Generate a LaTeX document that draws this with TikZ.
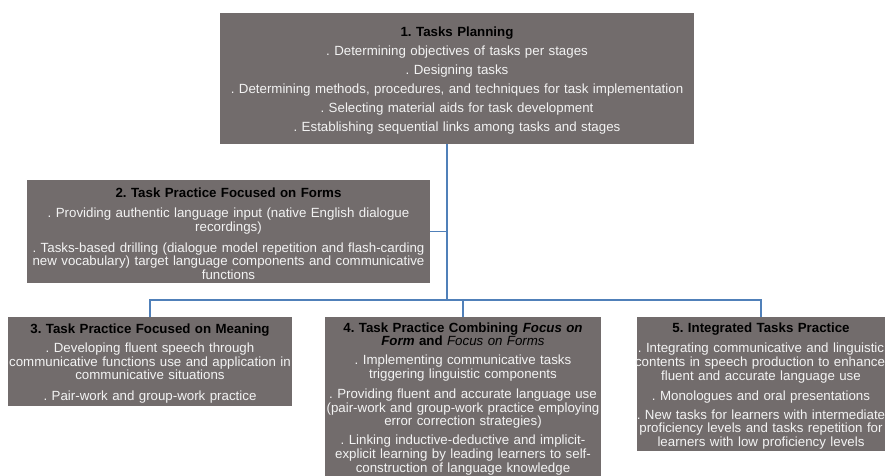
\documentclass[tikz,border=0pt]{standalone}
\usepackage{fontspec}
\setmainfont{Liberation Sans}
\definecolor{boxgray}{RGB}{114,108,108}
\definecolor{linkblue}{RGB}{80,128,185}
\definecolor{bodytext}{RGB}{243,243,243}
\tikzset{
  stagebox/.style={fill=boxgray, draw=none, inner sep=0pt, anchor=north,
    align=center, text=bodytext, font=\fontsize{13.3}{13.7}\selectfont\frenchspacing},
  link/.style={draw=linkblue, line width=1.5pt}
}
\newcommand\boxtitle[1]{{\color{black}\bfseries #1}}
\newcommand\flushline[1]{\makebox[\linewidth][r]{#1}}
\newcommand\midline[1]{\makebox[\linewidth][c]{#1}}
\newcommand\topgap{\rule{0pt}{13.6pt}}
\begin{document}
\begin{tikzpicture}[x=1pt,y=-1pt]
\useasboundingbox (0,0) rectangle (886,475);

\node[stagebox, text width=474pt, minimum height=131pt] (b1) at (457,13)
  {\topgap\boxtitle{1. Tasks Planning}\\[5.3pt]
   . Determining objectives of tasks per stages\\[5.3pt]
   . Designing tasks\\[5.3pt]
   \midline{. Determining methods, procedures, and techniques for task implementation}\\[5.3pt]
   . Selecting material aids for task development\\[5.3pt]
   . Establishing sequential links among tasks and stages};

\node[stagebox, text width=403pt, minimum height=103pt] (b2) at (228.5,180)
  {\topgap\boxtitle{2. Task Practice Focused on Forms}\\[6.3pt]
   \midline{. Providing authentic language input (native English dialogue}\\
   recordings)\\[7.3pt]
   \midline{. Tasks-based drilling (dialogue model repetition and flash-carding}\\
   \midline{new vocabulary) target language components and communicative}\\
   functions};

\node[stagebox, text width=284pt, minimum height=89pt] (b3) at (150,317)
  {\topgap\boxtitle{3. Task Practice Focused on Meaning}\\[5.3pt]
   . Developing fluent speech through\\
   \midline{communicative functions use and application in}\\
   communicative situations\\[7.3pt]
   . Pair-work and group-work practice};

\node[stagebox, text width=276pt, minimum height=163pt] (b4) at (463,317)
  {\boxtitle{4. Task Practice Combining \itshape Focus on}\\
   \boxtitle{\itshape Form \upshape and {\mdseries\itshape Focus on Forms}}\\[5.3pt]
   . Implementing communicative tasks\\
   triggering linguistic components\\[6.3pt]
   \midline{. Providing fluent and accurate language use}\\
   \midline{(pair-work and group-work practice employing}\\
   error correction strategies)\\[5.3pt]
   . Linking inductive-deductive and implicit-\\
   explicit learning by leading learners to self-\\
   construction of language knowledge};

\node[stagebox, text width=248pt, minimum height=134pt] (b5) at (761,317)
  {\topgap\boxtitle{5. Integrated Tasks Practice}\\[6.3pt]
   \midline{. Integrating communicative and linguistic}\\
   \flushline{contents in speech production to enhance}\\
   fluent and accurate language use\\[6.3pt]
   . Monologues and oral presentations\\[5.3pt]
   \midline{. New tasks for learners with intermediate}\\
   \midline{proficiency levels and tasks repetition for}\\
   learners with low proficiency levels};

\coordinate (hub) at (447,300);
\draw[link] (b1.south -| hub) -- (hub);
\draw[link] (b2.east) -- (b2.east -| hub);
\draw[link] (b3.north) -- (b3.north |- hub) -- (b5.north |- hub) -- (b5.north);
\draw[link] (b4.north) -- (b4.north |- hub);
\end{tikzpicture}
\end{document}
